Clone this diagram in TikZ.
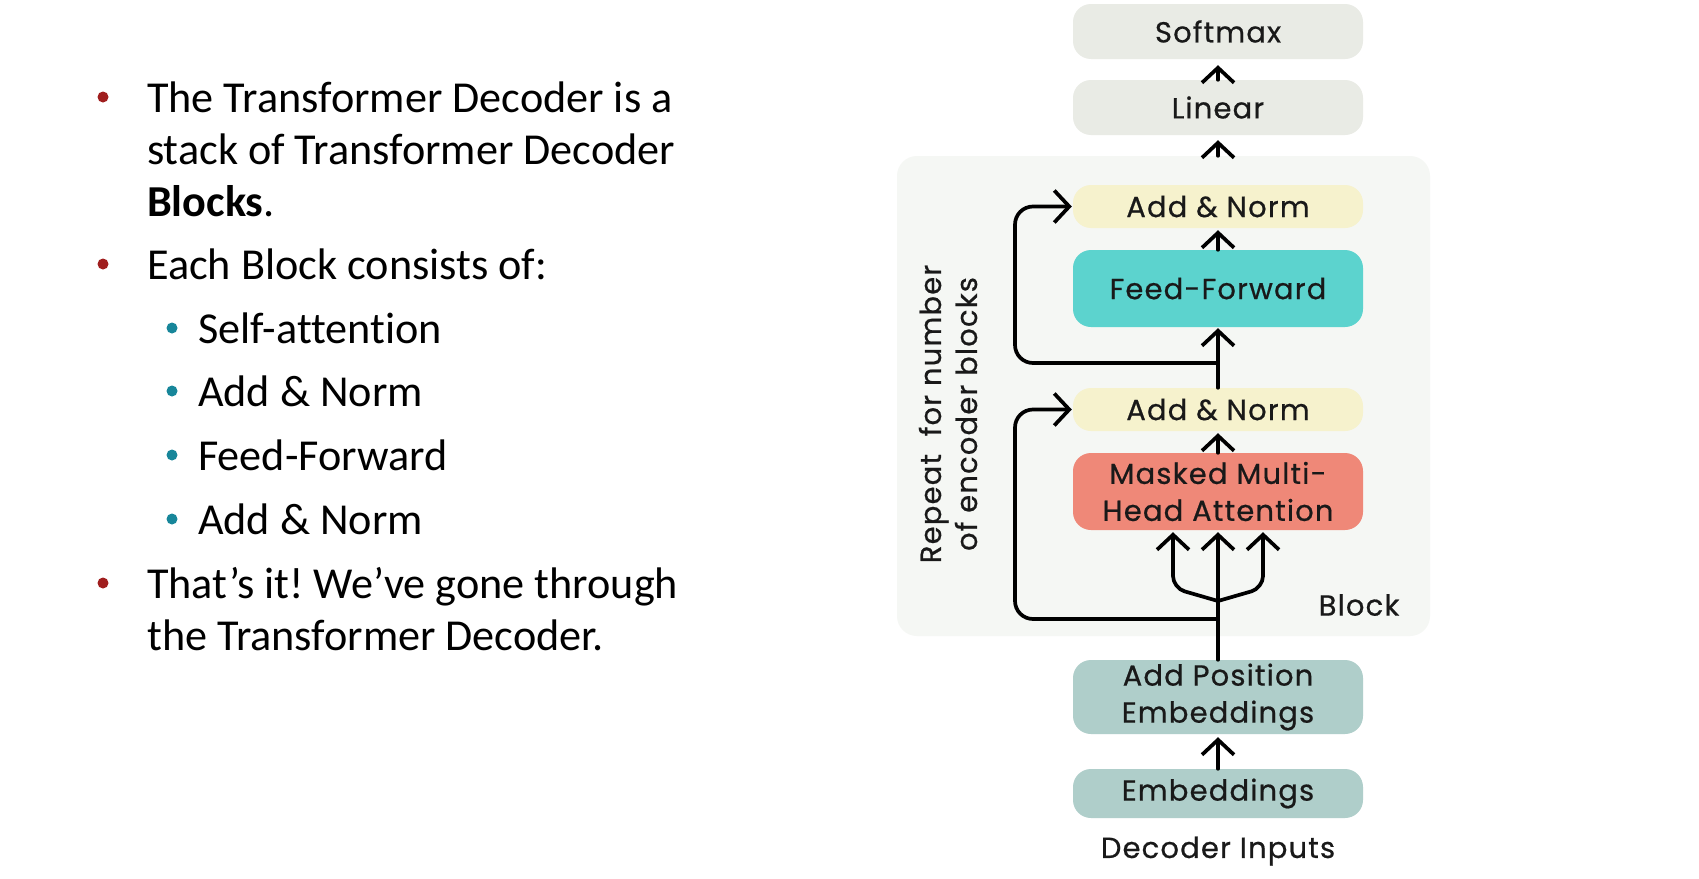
\documentclass[tikz,border=0pt]{standalone}
\usepackage{fontspec}
\setmainfont{Carlito}[Ligatures={NoCommon}]
\newfontfamily\dfont{Poppins}[LetterSpace=4,FakeBold=0.6]
\usetikzlibrary{arrows.meta,calc}
\definecolor{bulred}{HTML}{A01E1E}
\definecolor{bulteal}{HTML}{17869A}
\definecolor{graybox}{HTML}{E9EBE5}
\definecolor{blockbg}{HTML}{F5F7F4}
\definecolor{yellowbox}{HTML}{F6F2CD}
\definecolor{tealbox}{HTML}{5CD3CE}
\definecolor{salmonbox}{HTML}{EF8878}
\definecolor{embbox}{HTML}{AFCECA}
\tikzset{
  box/.style={rounded corners=18pt, minimum width=290pt, inner sep=0pt, align=center,
    font=\dfont\fontsize{29}{37}\selectfont, text=black!90},
  arr/.style={-{Straight Barb[length=15pt,width=32pt]}, line width=3.7pt, line join=round, line cap=round},
  ltext/.style={anchor=base west, inner sep=0pt, font=\fontsize{44.2}{48}\selectfont},
  rbul/.style={circle, fill=bulred, minimum size=11pt, inner sep=0pt},
  tbul/.style={circle, fill=bulteal, minimum size=11pt, inner sep=0pt},
  dlabel/.style={inner sep=0pt, font=\dfont\fontsize{29}{36}\selectfont, align=center, text=black!90}
}
\begin{document}
\frenchspacing
\begin{tikzpicture}[x=1pt,y=-1pt]
\useasboundingbox (0,0) rectangle (1699,878);
\fill[white] (0,0) rectangle (1699,878);

% left text
\node[rbul] (b1) at (103,97) {};
\node[ltext] (t1) at (147,112) {The Transformer Decoder is a};
\node[ltext] (t2) at (147,164) {stack of Transformer Decoder};
\node[ltext] (t3) at (147,216) {\textbf{Blocks}.};
\node[rbul] (b2) at (103,264) {};
\node[ltext] (t4) at (147,279) {Each Block consists of:};
\node[tbul] (b3) at (172,328) {};
\node[ltext] (t5) at (198,343) {Self-attention};
\node[tbul] (b4) at (172,391) {};
\node[ltext] (t6) at (198,406) {Add \& Norm};
\node[tbul] (b5) at (172,455) {};
\node[ltext] (t7) at (198,470) {Feed-Forward};
\node[tbul] (b6) at (172,519) {};
\node[ltext] (t8) at (198,534) {Add \& Norm};
\node[rbul] (b7) at (103,583) {};
\node[ltext] (t9) at (147,598) {That’s it! We’ve gone through};
\node[ltext] (t10) at (147,650) {the Transformer Decoder.};

% block background
\node[fill=blockbg, rounded corners=20pt, minimum width=533pt, minimum height=480pt, inner sep=0pt] (block) at (1163.5,396) {};

% boxes
\node[box, fill=graybox, minimum height=55pt] (sm) at (1218,31.5) {Softmax};
\node[box, fill=graybox, minimum height=55pt] (lin) at (1218,107.5) {Linear};
\node[box, fill=yellowbox, minimum height=43pt] (an2) at (1218,206.5) {Add \& Norm};
\node[box, fill=tealbox, minimum height=77pt] (ff) at (1218,288.5) {Feed-Forward};
\node[box, fill=yellowbox, minimum height=43pt] (an1) at (1218,409.5) {Add \& Norm};
\node[box, fill=salmonbox, minimum height=77pt] (mha) at (1218,491.5) {Masked Multi-\\Head Attention};
\node[box, fill=embbox, minimum height=74pt] (ape) at (1218,697) {Add Position\\Embeddings};
\node[box, fill=embbox, minimum height=49pt] (emb) at (1218,793.5) {Embeddings};

% labels
\node[dlabel] (blk) at (1359,605) {Block};
\node[dlabel] (din) at (1218,851) {Decoder Inputs};
\node[dlabel, rotate=90] (rep) at (948,414) {Repeat~~for number\\of encoder blocks};

% coordinates
\coordinate (r1) at (1218,363);
\coordinate (r2) at (1218,619);
\coordinate (fork) at (1218,601);
\coordinate (lx) at (1015,0);

% vertical connectors
\draw[arr, shorten >=6pt] (lin.north) -- (sm.south);
\draw[arr, shorten >=5pt] (lin.south |- block.north) -- (lin.south);
\draw[arr, shorten >=2pt] (ff.north) -- (an2.south);
\draw[arr, shorten >=1pt] (an1.north) -- (ff.south);
\draw[arr, shorten >=2pt] (mha.north) -- (an1.south);
\draw[arr, shorten >=2pt] (ape.north) -- (mha.south);
\draw[arr, shorten >=3pt] (emb.north) -- (ape.south);

% fork
\draw[arr, rounded corners=12pt, shorten >=2pt] (fork) -- (1173,588) -- ($(mha.south)+(-45,0)$);
\draw[arr, rounded corners=12pt, shorten >=2pt] (fork) -- (1263,588) -- ($(mha.south)+(45,0)$);

% residuals
\draw[arr, rounded corners=18pt, shorten >=1pt] (r1) -| (lx |- an2.west) -- (an2.west);
\draw[arr, rounded corners=18pt, shorten >=1pt] (r2) -| (lx |- an1.west) -- (an1.west);
\end{tikzpicture}
\end{document}
